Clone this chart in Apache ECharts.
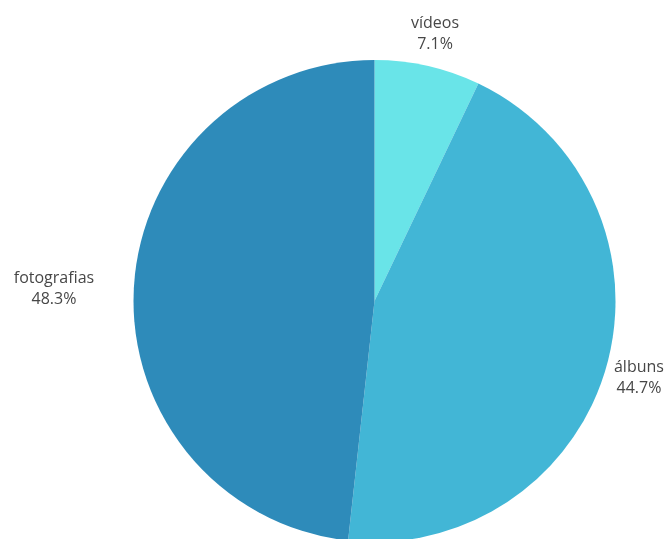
<!DOCTYPE html>
<html>
<head>
<meta charset="utf-8">
<script src="https://cdn.jsdelivr.net/npm/echarts@6/dist/echarts.min.js"></script>
<style>
html,body{margin:0;padding:0;background:#fff;}
#chart{width:664px;height:539px;}
</style>
</head>
<body>
<div id="chart"></div>
<script>
const categories = ['vídeos', 'álbuns', 'fotografias'];
const values = [7.1, 44.7, 48.3];
const colors = ['#69E4E8', '#42B6D6', '#2E8BBA'];

// per-label layout tweaks (label distance from pie edge, label block width, vertical nudge)
const labelGap = [33, 34, 80];
const labelWidth = [60, 60, 90];
const labelNudge = [0, 2, 6];

const chart = echarts.init(document.getElementById('chart'), null, {renderer: 'canvas'});
chart.setOption({
  animation: false,
  backgroundColor: '#ffffff',
  series: [{
    type: 'pie',
    center: [374.5, 301],
    radius: 241,
    startAngle: 90,
    clockwise: true,
    avoidLabelOverlap: false,
    label: {
      show: true,
      position: 'outside',
      distanceToLabelLine: 0,
      color: '#474747',
      fontFamily: 'Open Sans',
      fontSize: 16,
      lineHeight: 21
    },
    labelLine: { show: false },
    data: categories.map((name, i) => ({
      name: name,
      value: values[i],
      itemStyle: { color: colors[i] },
      label: {
        formatter: '{a|{b}}\n{a|{c}%}',
        padding: [labelNudge[i] * 2, 0, 0, 0],
        rich: {
          a: {
            width: labelWidth[i],
            align: 'center',
            color: '#474747',
            fontFamily: 'Open Sans',
            fontSize: 16,
            lineHeight: 21
          }
        }
      },
      labelLine: { show: false, length: labelGap[i], length2: -labelWidth[i] / 2 }
    }))
  }]
});
</script>
</body>
</html>
